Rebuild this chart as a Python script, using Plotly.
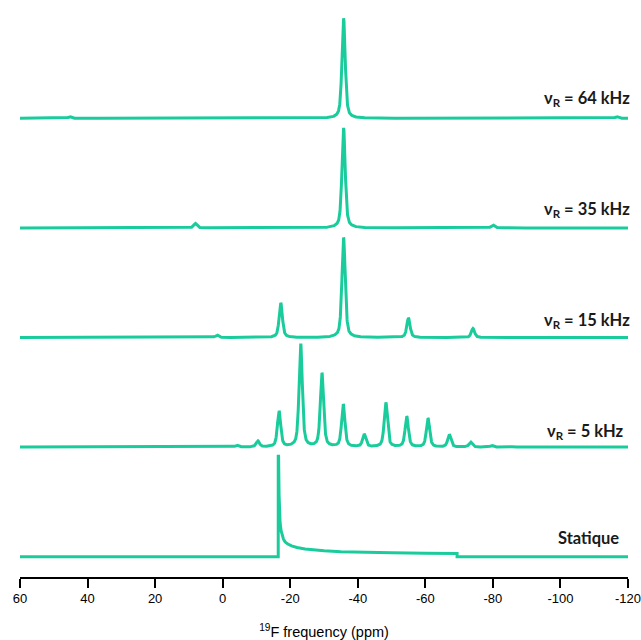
import numpy as np
import plotly.graph_objects as go

# ---------------- data ----------------
# Peak positions (ppm) and intensities (arbitrary units, isotropic line ~100)
peaks_64_ppm = [45.2, -35.8, -116.7]
peaks_64_int = [1.6, 100.0, 1.6]

peaks_35_ppm = [52.6, 8.1, -35.8, -80.0]
peaks_35_int = [0.4, 4.5, 100.0, 3.0]

peaks_15_ppm = [20.9, 1.7, -17.2, -35.8, -55.0, -74.1, -93.0]
peaks_15_int = [0.5, 2.5, 34.5, 100.0, 19.5, 9.0, 0.7]

peaks_5_ppm = [2.3, -4.2, -10.4, -16.7, -23.1, -29.4, -35.7, -41.9,
               -48.3, -54.5, -60.8, -67.1, -73.4, -79.7, -86.0]
peaks_5_int = [0.5, 1.8, 6.0, 35.5, 103.0, 73.5, 42.5, 12.5,
               44.5, 30.5, 28.5, 12.5, 5.0, 1.5, 0.4]

# Static powder pattern
static_ppm = [60.6, -16.45, -16.45, -16.55, -16.7, -16.85, -17.0, -17.3, -17.6,
              -18.0, -18.5, -19.3, -20.4, -22.0, -24.4, -27.0, -30.0, -35.0,
              -40.0, -50.0, -60.0, -69.4, -69.4, -120.5]
static_int = [0, 0, 100.5, 100.5, 62, 43, 34, 26, 21,
              17.5, 14.8, 12.6, 10.8, 9.2, 7.8, 6.8, 6.0, 5.0,
              4.4, 3.9, 3.5, 3.2, 0, 0]

labels = ["ν<sub>R</sub> = 64 kHz", "ν<sub>R</sub> = 35 kHz",
          "ν<sub>R</sub> = 15 kHz", "ν<sub>R</sub> = 5 kHz", "Statique"]

tick_vals = [60, 40, 20, 0, -20, -40, -60, -80, -100, -120]
tick_text = ["60", "40", "20", "0", "-20", "-40", "-60", "-80", "-100", "-120"]

# ---------------- layout helpers ----------------
COLOR = "#1ACC9B"
OFFSET = 109.6          # vertical spacing between stacked spectra
FWHM = 1.15             # ppm
ETA = 0.55              # Lorentzian fraction

x = np.arange(60.6, -120.6, -0.04)


def spectrum(pos, amp):
    y = np.zeros_like(x)
    g = FWHM / 2.0
    sig = FWHM / 2.3548
    for p, a in zip(pos, amp):
        d = x - p
        lor = 1.0 / (1.0 + (d / g) ** 2)
        gau = np.exp(-0.5 * (d / sig) ** 2)
        y += a * (ETA * lor + (1 - ETA) * gau)
    return y


fig = go.Figure()
spectra = [(peaks_64_ppm, peaks_64_int), (peaks_35_ppm, peaks_35_int),
           (peaks_15_ppm, peaks_15_int), (peaks_5_ppm, peaks_5_int)]
for i, (pp, ii) in enumerate(spectra):
    base = OFFSET * (4 - i)
    fig.add_trace(go.Scatter(x=x, y=spectrum(pp, ii) + base, mode="lines",
                             line=dict(color=COLOR, width=3),
                             hoverinfo="skip", showlegend=False))

fig.add_trace(go.Scatter(x=static_ppm, y=static_int, mode="lines",
                         line=dict(color=COLOR, width=3),
                         hoverinfo="skip", showlegend=False))

label_dy = [20, 18.5, 17, 15.5, 19]
label_dx = [4, 4, 4, -2, -7]
for i, lab in enumerate(labels):
    fig.add_annotation(x=1.0, xref="paper", xanchor="right",
                       y=OFFSET * (4 - i) + label_dy[i], yref="y", yanchor="middle",
                       text="<b>" + lab + "</b>", showarrow=False, xshift=label_dx[i],
                       font=dict(family="Lato", size=16.5, color="#1a1a1a"))

fig.update_layout(
    width=641, height=640,
    margin=dict(l=20, r=13, t=0, b=63, autoexpand=False),
    plot_bgcolor="white", paper_bgcolor="white",
    xaxis=dict(range=[60, -120], showgrid=False, zeroline=False, automargin=False,
               showline=True, linecolor="black", linewidth=1.5,
               ticks="outside", ticklen=9, tickwidth=1.5, tickcolor="black",
               tickvals=tick_vals, ticktext=tick_text, ticklabeloverflow="allow",
               tickfont=dict(family="Liberation Sans", size=13, color="black"),
               title=dict(text="<sup>19</sup>F frequency (ppm)", standoff=22,
                          font=dict(family="Liberation Sans", size=14.5, color="black"))),
    yaxis=dict(range=[-20.3, 556.7], visible=False, showgrid=False, zeroline=False,
               automargin=False),
)

fig.write_html("out.html", config={"displayModeBar": False},
               post_script="document.body.style.margin='0';document.body.style.padding='0';")
